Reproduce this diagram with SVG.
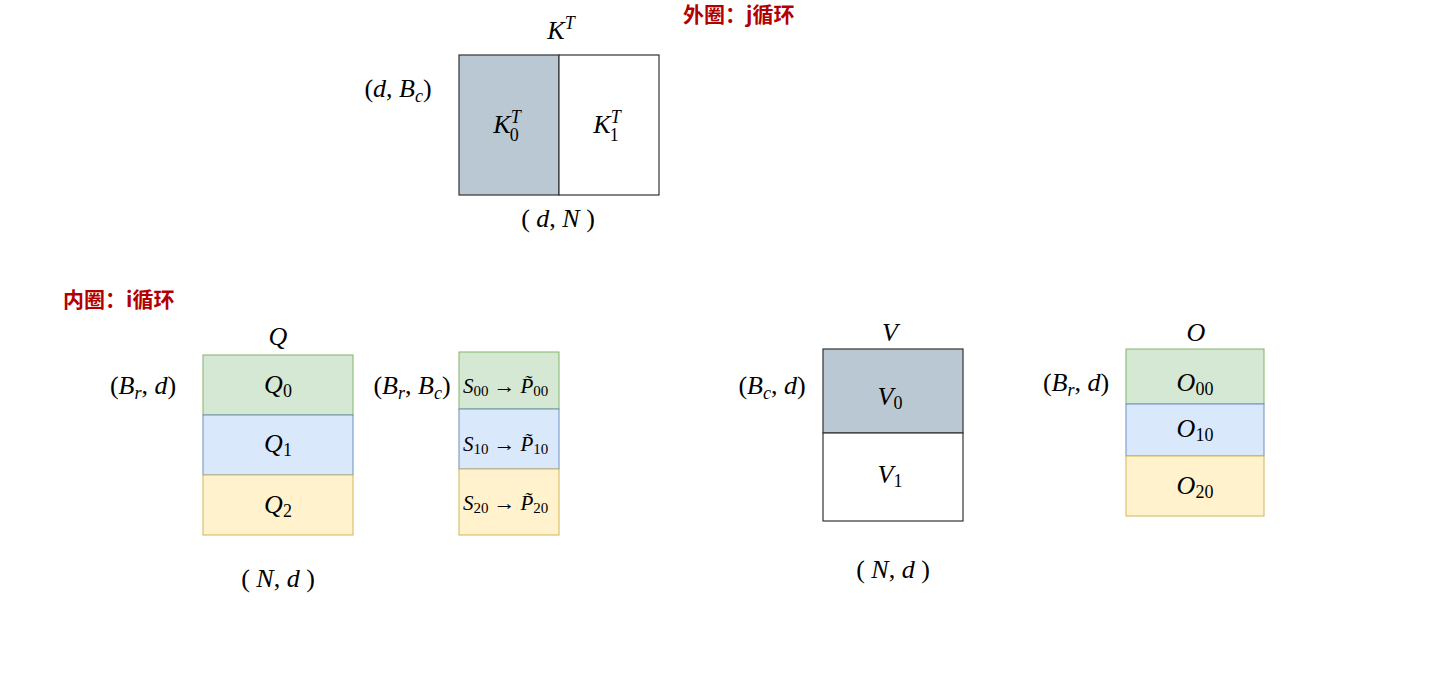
<svg xmlns="http://www.w3.org/2000/svg" width="1440" height="693" viewBox="0 0 1440 693">
<style>
.m{font-family:"Liberation Serif","Times New Roman",serif;font-size:26px;fill:#000}
.i{font-style:italic}
.sub{font-size:18px}
.s{font-family:"Liberation Serif","Times New Roman",serif;font-size:21px;fill:#000}
.ss{font-size:15px}
.ar{font-size:22px}
.red{font-family:"Noto Sans CJK SC","Noto Sans",sans-serif;font-size:21px;font-weight:bold;fill:#b20000}
.gray{fill:#bac8d3;stroke:#333;stroke-width:1.2}
.white{fill:#fff;stroke:#333;stroke-width:1.2}
.green{fill:#d5e8d4;stroke:#82b366;stroke-width:1}
.blue{fill:#dae8fc;stroke:#6c8ebf;stroke-width:1}
.yellow{fill:#fff2cc;stroke:#d6b656;stroke-width:1}
</style>
<rect width="1440" height="693" fill="#fff"/>
<g id="connectors"/>

<text id="label-outer" class="red" x="683" y="22">外圈：j循环</text>
<text id="label-inner" class="red" x="63" y="307">内圈：i循环</text>

<!-- K^T -->
<g id="KT">
<text class="m" x="561" y="39" text-anchor="middle"><tspan class="i">K</tspan><tspan class="sub i" dy="-10">T</tspan></text>
<text class="m" x="398" y="97" text-anchor="middle">(<tspan class="i">d</tspan>,  <tspan class="i">B</tspan><tspan class="sub i" dy="5">c</tspan><tspan dy="-5">)</tspan></text>
<text class="m" x="558" y="227" text-anchor="middle">( <tspan class="i">d</tspan>, <tspan class="i">N</tspan> )</text>
</g>
<g id="KT0">
<rect class="gray" x="459" y="55" width="100" height="140"/>
<text class="m" x="507" y="133" text-anchor="middle"><tspan class="i">K</tspan><tspan class="sub i" dx="0" dy="-10">T</tspan><tspan class="sub" dx="-11" dy="18">0</tspan></text>
</g>
<g id="KT1">
<rect class="white" x="559" y="55" width="100" height="140"/>
<text class="m" x="607" y="133" text-anchor="middle"><tspan class="i">K</tspan><tspan class="sub i" dx="0" dy="-10">T</tspan><tspan class="sub" dx="-11" dy="18">1</tspan></text>
</g>

<!-- Q -->
<g id="Q">
<text class="m i" x="278" y="345" text-anchor="middle">Q</text>
<text class="m" x="143" y="394" text-anchor="middle">(<tspan class="i">B</tspan><tspan class="sub i" dy="5">r</tspan><tspan dy="-5">,  </tspan><tspan class="i">d</tspan>)</text>
<text class="m" x="278" y="587" text-anchor="middle">( <tspan class="i">N</tspan>,  <tspan class="i">d</tspan> )</text>
</g>
<g id="Q0">
<rect class="green" x="203" y="355" width="150" height="60"/>
<text class="m" x="278" y="393" text-anchor="middle"><tspan class="i">Q</tspan><tspan class="sub" dy="4">0</tspan></text>
</g>
<g id="Q1">
<rect class="blue" x="203" y="415" width="150" height="60"/>
<text class="m" x="278" y="452" text-anchor="middle"><tspan class="i">Q</tspan><tspan class="sub" dy="4">1</tspan></text>
</g>
<g id="Q2">
<rect class="yellow" x="203" y="475" width="150" height="60"/>
<text class="m" x="278" y="513" text-anchor="middle"><tspan class="i">Q</tspan><tspan class="sub" dy="4">2</tspan></text>
</g>

<!-- S -->
<g id="S">
<text class="m" x="412" y="394" text-anchor="middle">(<tspan class="i">B</tspan><tspan class="sub i" dy="5">r</tspan><tspan dy="-5">,  </tspan><tspan class="i">B</tspan><tspan class="sub i" dy="5">c</tspan><tspan dy="-5">)</tspan></text>
</g>
<g id="S00">
<rect class="green" x="459" y="352" width="100" height="57"/>
<text class="s" x="463" y="393"><tspan class="i">S</tspan><tspan class="ss" dy="3">00</tspan><tspan class="ar" dx="5" dy="-3">→</tspan><tspan class="i" dx="5">P̃</tspan><tspan class="ss" dy="3">00</tspan></text>
</g>
<g id="S10">
<rect class="blue" x="459" y="409" width="100" height="60"/>
<text class="s" x="463" y="451"><tspan class="i">S</tspan><tspan class="ss" dy="3">10</tspan><tspan class="ar" dx="5" dy="-3">→</tspan><tspan class="i" dx="5">P̃</tspan><tspan class="ss" dy="3">10</tspan></text>
</g>
<g id="S20">
<rect class="yellow" x="459" y="469" width="100" height="66"/>
<text class="s" x="463" y="510"><tspan class="i">S</tspan><tspan class="ss" dy="3">20</tspan><tspan class="ar" dx="5" dy="-3">→</tspan><tspan class="i" dx="5">P̃</tspan><tspan class="ss" dy="3">20</tspan></text>
</g>

<!-- V -->
<g id="V">
<text class="m i" x="890" y="341" text-anchor="middle">V</text>
<text class="m" x="772" y="394" text-anchor="middle">(<tspan class="i">B</tspan><tspan class="sub i" dy="5">c</tspan><tspan dy="-5">,  </tspan><tspan class="i">d</tspan>)</text>
<text class="m" x="893" y="578" text-anchor="middle">( <tspan class="i">N</tspan>,  <tspan class="i">d</tspan> )</text>
</g>
<g id="V0">
<rect class="gray" x="823" y="349" width="140" height="84"/>
<text class="m" x="890" y="405" text-anchor="middle"><tspan class="i">V</tspan><tspan class="sub" dy="4">0</tspan></text>
</g>
<g id="V1">
<rect class="white" x="823" y="433" width="140" height="88"/>
<text class="m" x="890" y="483" text-anchor="middle"><tspan class="i">V</tspan><tspan class="sub" dy="4">1</tspan></text>
</g>

<!-- O -->
<g id="O">
<text class="m i" x="1196" y="341" text-anchor="middle">O</text>
<text class="m" x="1076" y="391" text-anchor="middle">(<tspan class="i">B</tspan><tspan class="sub i" dy="5">r</tspan><tspan dy="-5">,  </tspan><tspan class="i">d</tspan>)</text>
</g>
<g id="O00">
<rect class="green" x="1126" y="349" width="138" height="55"/>
<text class="m" x="1195" y="391" text-anchor="middle"><tspan class="i">O</tspan><tspan class="sub" dy="4">00</tspan></text>
</g>
<g id="O10">
<rect class="blue" x="1126" y="404" width="138" height="52"/>
<text class="m" x="1195" y="437" text-anchor="middle"><tspan class="i">O</tspan><tspan class="sub" dy="4">10</tspan></text>
</g>
<g id="O20">
<rect class="yellow" x="1126" y="456" width="138" height="60"/>
<text class="m" x="1195" y="494" text-anchor="middle"><tspan class="i">O</tspan><tspan class="sub" dy="4">20</tspan></text>
</g>
</svg>
